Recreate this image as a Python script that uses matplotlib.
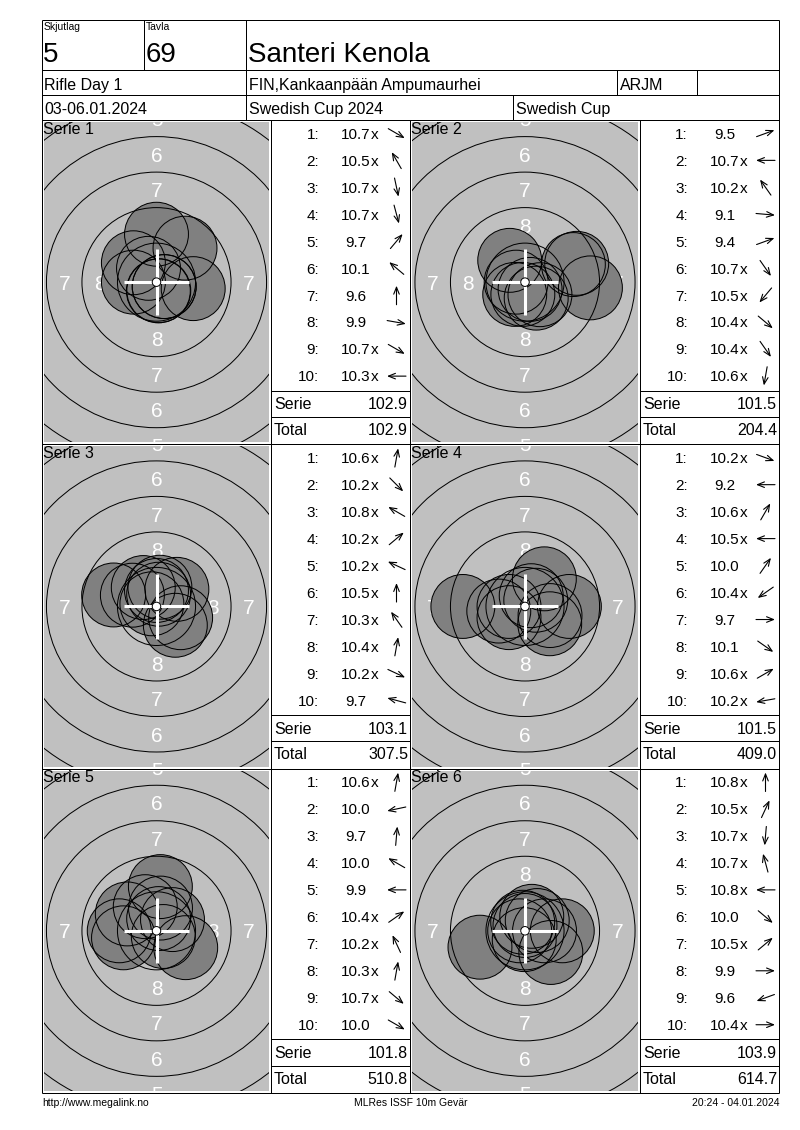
import numpy as np
import matplotlib
matplotlib.use('Agg')
import matplotlib.pyplot as plt
from matplotlib.patches import Circle, FancyArrowPatch

plt.rcParams['font.family'] = ['Liberation Sans', 'DejaVu Sans']

# header fields
squad = "5"
lane = "69"
shooter = "Santeri Kenola"
event = "Rifle Day 1"
club = "FIN,Kankaanpään Ampumaurhei"
shooter_class = "ARJM"
dates = "03-06.01.2024"
competition = "Swedish Cup 2024"
cup = "Swedish Cup"

# shots: score as printed, direction of the hit from centre (deg, 0 = right, 90 = up)
scores_1 = ["10.7x", "10.5x", "10.7x", "10.7x", "9.7", "10.1", "9.6", "9.9", "10.7x", "10.3x"]
angles_1 = [-30, 120, -78, -75, 50, 140, 90, -10, -30, 180]
scores_2 = ["9.5", "10.7x", "10.2x", "9.1", "9.4", "10.7x", "10.5x", "10.4x", "10.4x", "10.6x"]
angles_2 = [20, 180, 125, -5, 20, -55, -130, -40, -55, -100]
scores_3 = ["10.6x", "10.2x", "10.8x", "10.2x", "10.2x", "10.5x", "10.3x", "10.4x", "10.2x", "9.7"]
angles_3 = [80, -45, 150, 40, 155, 90, 125, 80, -25, 165]
scores_4 = ["10.2x", "9.2", "10.6x", "10.5x", "10.0", "10.4x", "9.7", "10.1", "10.6x", "10.2x"]
angles_4 = [-20, 180, 60, 180, 55, -145, 0, -35, 30, -170]
scores_5 = ["10.6x", "10.0", "9.7", "10.0", "9.9", "10.4x", "10.2x", "10.3x", "10.7x", "10.0"]
angles_5 = [80, -168, 85, 150, 180, 35, 115, 80, -40, -30]
scores_6 = ["10.8x", "10.5x", "10.7x", "10.7x", "10.8x", "10.0", "10.5x", "9.9", "9.6", "10.4x"]
angles_6 = [90, 65, -95, 105, 180, -40, 40, 0, -160, 0]

serie_sums = ["102.9", "101.5", "103.1", "101.5", "101.8", "103.9"]
totals = ["102.9", "204.4", "307.5", "409.0", "510.8", "614.7"]

footer_left = "http://www.megalink.no"
footer_mid = "MLRes ISSF 10m Gevär"
footer_right = "20:24 - 04.01.2024"

all_scores = [scores_1, scores_2, scores_3, scores_4, scores_5, scores_6]
all_angles = [angles_1, angles_2, angles_3, angles_4, angles_5, angles_6]

W, H = 800, 1130
PX_MM = 14.2          # target zoom, pixels per mm
PELLET_R = 2.25       # 4.5 mm pellet
LW = 0.72             # one pixel

COL_X = [42, 271, 410, 640, 779]
ROW_Y = [120, 444.3, 768.6, 1093]

fig = plt.figure(figsize=(8, 11.3), dpi=100)
fig.patch.set_facecolor('white')
page = fig.add_axes([0, 0, 1, 1])
page.set_xlim(0, W)
page.set_ylim(H, 0)
page.axis('off')


def seg(x0, y0, x1, y1):
    page.plot([x0, x1], [y0, y1], color='black', lw=LW, solid_capstyle='butt')


# form frame
seg(42, 20, 779, 20); seg(42, 1093, 779, 1093)
seg(42, 20, 42, 1093); seg(779, 20, 779, 1093)
for y in [70, 95, 120] + ROW_Y[1:3]:
    seg(42, y, 779, y)
seg(144, 20, 144, 70)
seg(246, 20, 246, 120)
seg(617, 70, 617, 95)
seg(697, 70, 697, 95)
seg(513, 95, 513, 120)
for x in COL_X[1:4]:
    seg(x, 120, x, 1093)

# header text
page.text(44, 22, "Skjutlag", fontsize=7.5, va='top')
page.text(146, 22, "Tavla", fontsize=7.5, va='top')
page.text(43, 62, squad, fontsize=20, va='baseline')
page.text(146, 62, lane, fontsize=20, va='baseline')
page.text(248, 62, shooter, fontsize=20, va='baseline')
page.text(44, 90, event, fontsize=11.5, va='baseline')
page.text(249, 90, club, fontsize=11.5, va='baseline')
page.text(620, 90, shooter_class, fontsize=11.5, va='baseline')
page.text(44, 114, dates, fontsize=11.5, va='baseline')
page.text(249, 114, competition, fontsize=11.5, va='baseline')
page.text(516, 114, cup, fontsize=11.5, va='baseline')

# footer
page.text(42, 1106, footer_left, fontsize=7.5, va='baseline')
page.text(411, 1106, footer_mid, fontsize=7.5, va='baseline', ha='center')
page.text(779, 1106, footer_right, fontsize=7.5, va='baseline', ha='right')


def draw_target(box, scores, angles, title):
    x0, y0, x1, y1 = box
    gx0, gy0, gx1, gy1 = x0 + 2, y0 + 2, x1 - 2, y1 - 2
    ax = fig.add_axes([gx0 / W, 1 - gy1 / H, (gx1 - gx0) / W, (gy1 - gy0) / H])
    cx, cy = (x0 + x1) / 2, (y0 + y1) / 2
    ax.set_xlim((gx0 - cx) / PX_MM, (gx1 - cx) / PX_MM)
    ax.set_ylim((cy - gy1) / PX_MM, (cy - gy0) / PX_MM)
    ax.set_facecolor('#c0c0c0')
    ax.set_xticks([]); ax.set_yticks([])
    for s in ax.spines.values():
        s.set_visible(False)

    # ring numbers sit in the middle of each zone
    for n in range(1, 9):
        rm = (10 - n) * 2.5 - 1.0
        for px, py in [(0, rm), (0, -rm), (-rm, 0), (rm, 0)]:
            ax.text(px, py - 0.52, str(n), color='white', fontsize=15,
                    ha='center', va='baseline', zorder=1, clip_on=True)
    for n in range(1, 10):
        ax.add_patch(Circle((0, 0), 0.25 + (10 - n) * 2.5, fill=False,
                            ec='black', lw=LW, zorder=3))

    vals = np.array([float(s.rstrip('x')) for s in scores])
    dist = (10.95 - vals) * 2.5
    th = np.radians(angles)
    xs, ys = dist * np.cos(th), dist * np.sin(th)
    for x, y in zip(xs, ys):
        ax.add_patch(Circle((x, y), PELLET_R, fc='#808080', ec='none', zorder=2))
    for x, y in zip(xs, ys):
        ax.add_patch(Circle((x, y), PELLET_R, fill=False, ec='black', lw=LW, zorder=4))

    ax.plot([-2.3, 2.3], [0, 0], color='white', lw=2.2, zorder=5, solid_capstyle='butt')
    ax.plot([0, 0], [-2.3, 2.3], color='white', lw=2.2, zorder=5, solid_capstyle='butt')
    ax.add_patch(Circle((0, 0), 0.3, fc='white', ec='black', lw=0.7, zorder=6))

    fig.text(43 / W + (x0 - 42) / W, 1 - (y0 + 13.5) / H, title, fontsize=11.5,
             va='baseline', zorder=7)


def draw_table(box, scores, angles, serie, total):
    x0, y0, x1, y1 = box
    for i, (s, a) in enumerate(zip(scores, angles)):
        yb = y0 + 18.7 + 26.97 * i
        page.text(x0 + 48, yb, f"{i + 1}:", fontsize=11, ha='right', va='baseline')
        page.text(x0 + 85, yb, s.rstrip('x'), fontsize=11, ha='center', va='baseline')
        if s.endswith('x'):
            page.text(x0 + 99.5, yb, "x", fontsize=11, ha='left', va='baseline')
        yc = yb - 5.3
        xc = x0 + 125.5
        t = np.radians(a)
        dx, dy = 9.5 * np.cos(t), 9.5 * np.sin(t)
        page.add_patch(FancyArrowPatch((xc - dx, yc + dy), (xc + dx, yc - dy),
                                       arrowstyle='->,head_length=0.5,head_width=0.2',
                                       mutation_scale=10, lw=0.8, color='black',
                                       shrinkA=0, shrinkB=0))
    seg(x0, y0 + 270.7, x1, y0 + 270.7)
    seg(x0, y0 + 297, x1, y0 + 297)
    page.text(x0 + 3, y0 + 289.4, "Serie", fontsize=11.5, va='baseline')
    page.text(x1 - 2, y0 + 289.4, serie, fontsize=11.5, va='baseline', ha='right')
    page.text(x0 + 3, y0 + 315, "Total", fontsize=11.5, va='baseline')
    page.text(x1 - 2, y0 + 315, total, fontsize=11.5, va='baseline', ha='right')


for k in range(6):
    r, c = divmod(k, 2)
    y0, y1 = ROW_Y[r], ROW_Y[r + 1]
    tx0, tx1 = COL_X[2 * c], COL_X[2 * c + 1]
    bx0, bx1 = COL_X[2 * c + 1], COL_X[2 * c + 2]
    draw_target((tx0, y0, tx1, y1), all_scores[k], all_angles[k], f"Serie {k + 1}")
    draw_table((bx0, y0, bx1, y1), all_scores[k], all_angles[k], serie_sums[k], totals[k])

fig.savefig('out.png', dpi=100, facecolor='white')
